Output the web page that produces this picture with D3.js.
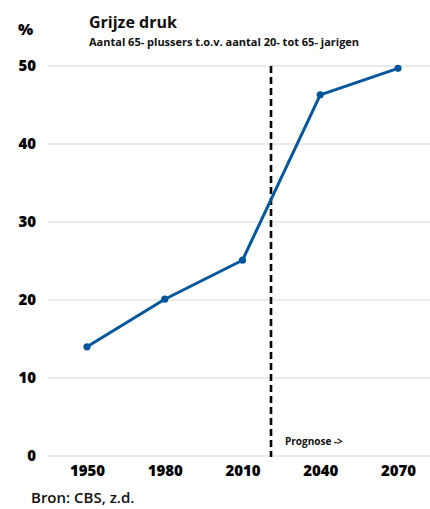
<!DOCTYPE html>
<html>
<head>
<meta charset="utf-8">
<script src="https://cdn.jsdelivr.net/npm/d3@7/dist/d3.min.js"></script>
<style>
  html, body { margin: 0; padding: 0; background: #fff; }
  svg { display: block; font-family: "Open Sans", "Noto Sans", sans-serif; }
</style>
</head>
<body>
<svg id="chart" width="430" height="509"></svg>
<script>
// Grijze druk: 65+ per 100 people aged 20-64
const years = [1950, 1980, 2010, 2040, 2070];
const values = [14.0, 20.1, 25.1, 46.3, 49.7];
const yTicks = [0, 10, 20, 30, 40, 50];
const forecastStart = 2021;

const svg = d3.select("#chart");

const x = d3.scaleLinear().domain([1950, 2070]).range([87, 398]);
const y = d3.scaleLinear().domain([0, 50]).range([456, 66]);

// gridlines
svg.append("g").selectAll("line").data(yTicks).join("line")
  .attr("x1", 48).attr("x2", 430)
  .attr("y1", d => y(d)).attr("y2", d => y(d))
  .attr("stroke", "#e4e4e4")
  .attr("stroke-width", 1.3);

// y-axis labels
const yAxis = d3.axisLeft(y).tickValues(yTicks).tickSize(0).tickPadding(0);
const gy = svg.append("g").attr("transform", "translate(36,0)").call(yAxis);
gy.select(".domain").remove();
gy.selectAll("text")
  .attr("font-family", "'Open Sans', sans-serif")
  .attr("font-size", 15).attr("font-weight", 800).attr("fill", "#000");

// x-axis labels
const xAxis = d3.axisBottom(x).tickValues(years).tickFormat(d3.format("d")).tickSize(0).tickPadding(0);
const gx = svg.append("g").attr("transform", "translate(0,465)").call(xAxis);
gx.select(".domain").remove();
gx.selectAll("text")
  .attr("font-family", "'Open Sans', sans-serif")
  .attr("font-size", 15).attr("font-weight", 800).attr("fill", "#000");

// forecast divider
svg.append("line")
  .attr("x1", x(forecastStart)).attr("x2", x(forecastStart))
  .attr("y1", y(50)).attr("y2", y(0) + 1)
  .attr("stroke", "#000").attr("stroke-width", 2.6)
  .attr("stroke-dasharray", "7,4");

svg.append("text")
  .attr("x", x(forecastStart) + 14).attr("y", 445)
  .attr("font-size", 10).attr("font-weight", 700).attr("fill", "#111")
  .text("Prognose ->");

// series line
const line = d3.line().x((d, i) => x(years[i])).y(d => y(d));
svg.append("path").datum(values)
  .attr("d", line)
  .attr("fill", "none").attr("stroke", "#00579c")
  .attr("stroke-width", 3).attr("stroke-linejoin", "round");

svg.append("g").selectAll("circle").data(values).join("circle")
  .attr("cx", (d, i) => x(years[i])).attr("cy", d => y(d))
  .attr("r", 3.6).attr("fill", "#00579c");

// titles
svg.append("text").attr("x", 18).attr("y", 35)
  .attr("font-size", 16).attr("font-weight", 800).text("%");
svg.append("text").attr("x", 89).attr("y", 28)
  .attr("font-size", 16).attr("font-weight", 700).attr("fill", "#111").text("Grijze druk");
svg.append("text").attr("x", 89).attr("y", 46)
  .attr("font-size", 11).attr("font-weight", 700).attr("fill", "#111")
  .text("Aantal 65- plussers t.o.v. aantal 20- tot 65- jarigen");
svg.append("text").attr("x", 31).attr("y", 503)
  .attr("font-size", 15).attr("font-weight", 600).attr("fill", "#111").text("Bron: CBS, z.d.");
</script>
</body>
</html>
